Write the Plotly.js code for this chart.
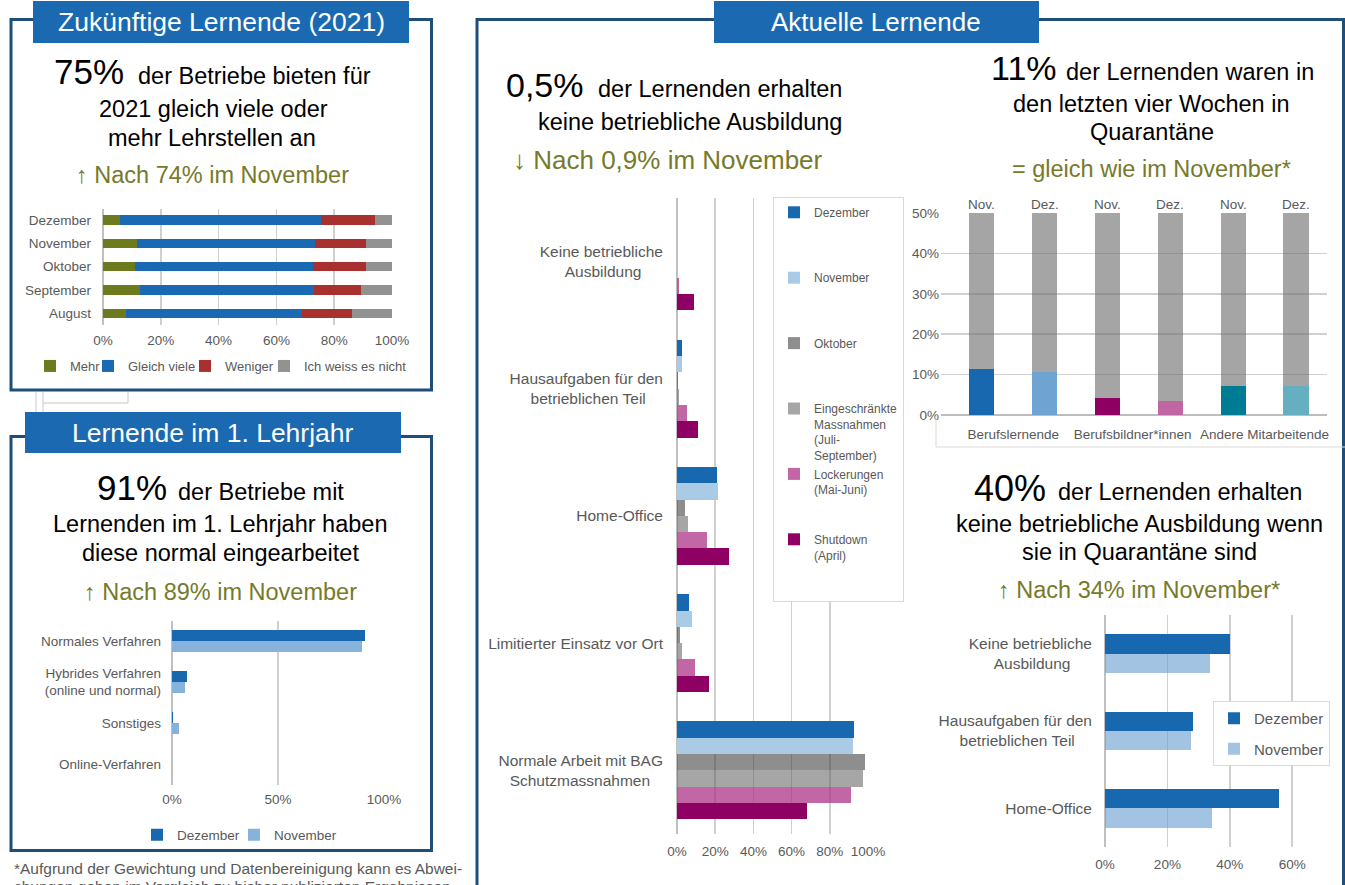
<!DOCTYPE html>
<html>
<head>
<meta charset="utf-8">
<script src="https://cdn.plot.ly/plotly-3.0.1.min.js"></script>
<style>
body { margin: 0; background: #fff; }
#chart { width: 1345px; height: 885px; }
</style>
</head>
<body>
<div id="chart"></div>
<script>
// Lehrstellen 2021
const monate = ['Dezember', 'November', 'Oktober', 'September', 'August'];
const mehr = [6, 11.9, 11, 12.9, 8.1];
const gleichViele = [69.5, 61.5, 61.7, 60, 60.9];
const weniger = [18.5, 17.7, 18.4, 16.3, 17.2];
const weissNicht = [6, 8.9, 8.9, 10.8, 13.8];

// 1. Lehrjahr
const verfahren = ['Normales Verfahren', 'Hybrides Verfahren<br>(online und normal)', 'Sonstiges', 'Online-Verfahren'];
const verfahrenDez = [90.9, 7.2, 0.5, 0];
const verfahrenNov = [89.4, 6.3, 3.5, 0];

// Aktuelle Lernende: Ausbildungssituation
const massnahmen = [
    'Keine betriebliche<br>Ausbildung&nbsp;&nbsp;&nbsp;&nbsp;&nbsp;',
    'Hausaufgaben für den<br>betrieblichen Teil&nbsp;&nbsp;&nbsp;&nbsp;',
    'Home-Office',
    'Limitierter Einsatz vor Ort',
    'Normale Arbeit mit BAG<br>Schutzmassnahmen&nbsp;&nbsp;&nbsp;'
];
const perioden = ['Dezember', 'November', 'Oktober', 'Eingeschränkte<br>Massnahmen<br>(Juli-<br>September)', 'Lockerungen<br>(Mai-Juni)', 'Shutdown<br>(April)'];
const massDez = [0, 2.6, 20.9, 6.1, 92.7];
const massNov = [0, 2.6, 21.3, 7.7, 92.2];
const massOkt = [0, 0.5, 4.0, 1.6, 98.3];
const massJuliSep = [0, 1.0, 5.6, 2.4, 97.6];
const massMaiJuni = [1.0, 5.1, 15.5, 9.4, 91.3];
const massApril = [9.1, 11.0, 27.0, 16.6, 68.3];

// Quarantäne
const gruppen = ['Berufslernende', 'Berufsbildner*innen', 'Andere Mitarbeitende'];
const quarSpalten = [0, 1, 2, 3, 4, 5];
const quarMonat = ['Nov.', 'Dez.', 'Nov.', 'Dez.', 'Nov.', 'Dez.'];
const inQuarantaene = [11.4, 10.6, 4.3, 3.5, 7.3, 7.2];
const restBis50 = [38.6, 39.4, 45.7, 46.5, 42.7, 42.8];

// Ausbildung während Quarantäne
const folgen = [
    'Keine betriebliche<br>Ausbildung&nbsp;&nbsp;&nbsp;&nbsp;&nbsp;',
    'Hausaufgaben für den<br>betrieblichen Teil&nbsp;&nbsp;&nbsp;&nbsp;',
    'Home-Office'
];
const folgenDez = [40.1, 28.2, 55.7];
const folgenNov = [33.5, 27.6, 34.3];

const W = 1345, H = 885;
const FONT = 'Liberation Sans, Arial, sans-serif';
const grau = '#595959';
const oliv = '#767A2A';
const rahmen = '#1F4E79';
const tabBlau = '#1A69B1';

function px(x) { return x / W; }
function py(y) { return 1 - y / H; }

function valueAxis(x0, x1, anchor, range, dtick, standoff) {
    return {
        domain: [px(x0), px(x1)], anchor: anchor, range: range, dtick: dtick, ticksuffix: '%',
        showgrid: true, gridcolor: '#D0D0D0', gridwidth: 1.5,
        zeroline: true, zerolinecolor: '#C0C0C0', zerolinewidth: 1.5,
        showline: false, ticks: '', ticklabelstandoff: standoff,
        tickfont: {family: FONT, size: 13.5, color: grau}
    };
}

function catAxis(y0, y1, anchor, n, size, standoff) {
    return {
        domain: [py(y1), py(y0)], anchor: anchor, type: 'category', range: [n - 0.5, -0.5],
        showgrid: false, zeroline: false, showline: false, ticks: '',
        ticklabelstandoff: standoff,
        tickfont: {family: FONT, size: size, color: grau}
    };
}

function pad4(name) {
    var s = name;
    for (var i = name.split('<br>').length; i < 4; i++) s += '<br>&nbsp;';
    return s;
}

var data = [];

// chart 1 - stacked
var serien1 = [[mehr, 'Mehr', '#6E7A1E'], [gleichViele, 'Gleich viele', '#1A6AB3'], [weniger, 'Weniger', '#A8312F'], [weissNicht, 'Ich weiss es nicht', '#929292']];
var legIds1 = ['legend', 'legend2', 'legend3', 'legend4'];
for (var i = 0; i < serien1.length; i++) {
    data.push({
        type: 'bar', orientation: 'h', y: monate, x: serien1[i][0], name: serien1[i][1],
        marker: {color: serien1[i][2]}, width: 0.4, xaxis: 'x', yaxis: 'y', legend: legIds1[i]
    });
}

// chart 2 - grouped
data.push({type: 'bar', orientation: 'h', y: verfahren, x: verfahrenDez, name: 'Dezember', base: 0, offset: -0.26, width: 0.26,
    marker: {color: '#1868B0'}, xaxis: 'x2', yaxis: 'y2', legend: 'legend5'});
data.push({type: 'bar', orientation: 'h', y: verfahren, x: verfahrenNov, name: 'November', base: 0, offset: 0, width: 0.26,
    marker: {color: '#86B2DB'}, xaxis: 'x2', yaxis: 'y2', legend: 'legend6'});

// chart 3 - six periods
var serien3 = [massDez, massNov, massOkt, massJuliSep, massMaiJuni, massApril];
var farben3 = ['#1868B0', '#A9CBE6', 'rgba(60,60,60,0.58)', 'rgba(90,90,90,0.54)', 'rgba(170,45,130,0.72)', '#8E0062'];
for (var k = 0; k < serien3.length; k++) {
    data.push({
        type: 'bar', orientation: 'h', y: massnahmen, x: serien3[k], name: pad4(perioden[k]),
        base: 0, offset: -0.385 + k * 0.128, width: 0.128,
        marker: {color: farben3[k]}, xaxis: 'x3', yaxis: 'y3', legend: 'legend7'
    });
}

// chart 4 - quarantine, stacked to 50%
data.push({type: 'bar', x: quarSpalten, y: inQuarantaene, width: 0.4, showlegend: false,
    marker: {color: ['#1868B0', '#6EA3D2', '#8E0062', '#C066A3', '#007B94', '#66AFC0']}, xaxis: 'x4', yaxis: 'y4'});
data.push({type: 'bar', x: quarSpalten, y: restBis50, width: 0.4, showlegend: false,
    marker: {color: 'rgba(110,110,110,0.62)'}, xaxis: 'x4', yaxis: 'y4'});

// chart 5 - grouped
data.push({type: 'bar', orientation: 'h', y: folgen, x: folgenDez, name: 'Dezember', base: 0, offset: -0.25, width: 0.25,
    marker: {color: '#1868B0'}, xaxis: 'x5', yaxis: 'y5', legend: 'legend8', legendgroup: 'd'});
data.push({type: 'bar', orientation: 'h', y: folgen, x: folgenNov, name: 'November', base: 0, offset: 0, width: 0.25,
    marker: {color: 'rgba(100,155,205,0.6)'}, xaxis: 'x5', yaxis: 'y5', legend: 'legend8', legendgroup: 'n'});

function smallLegend(x, y, size) {
    return {x: px(x), y: py(y), xanchor: 'left', yanchor: 'middle', bgcolor: 'rgba(0,0,0,0)',
        font: {family: FONT, size: size, color: grau}, itemwidth: 30, traceorder: 'normal'};
}

function txt(t, x, base, size, color, anchor) {
    return {text: t, xref: 'paper', yref: 'paper', x: px(x), y: py(base - 0.35 * size),
        xanchor: anchor || 'left', yanchor: 'middle', showarrow: false,
        font: {family: FONT, size: size, color: color || '#000'}};
}

function box(x0, y0, x1, y1) {
    return {type: 'rect', xref: 'paper', yref: 'paper', x0: px(x0), x1: px(x1), y0: py(y0), y1: py(y1),
        line: {color: rahmen, width: 3}};
}
function tab(x0, y0, x1, y1) {
    return {type: 'rect', xref: 'paper', yref: 'paper', x0: px(x0), x1: px(x1), y0: py(y0), y1: py(y1),
        fillcolor: tabBlau, line: {width: 0}};
}
function strich(x0, y0, x1, y1, c) {
    return {type: 'line', xref: 'paper', yref: 'paper', x0: px(x0), x1: px(x1), y0: py(y0), y1: py(y1),
        line: {color: c || '#D9D9D9', width: 1}};
}

var shapes = [
    box(11, 19.5, 431.5, 390), box(11, 436.5, 431.5, 850.5), box(477, 19.5, 1343.5, 900),
    tab(33, 1, 409, 43), tab(25, 412, 401, 453), tab(714, 1, 1039, 43),
    strich(936, 416, 936, 447), strich(936, 447, 1345, 447),
    strich(36, 392, 36, 412, '#C8C8C8'), strich(43, 392, 43, 412, '#C8C8C8'),
    strich(43, 403, 128, 403, '#C8C8C8'), strich(128, 392, 128, 403, '#C8C8C8')
];

var annotations = [
    txt('Zukünftige Lernende (2021)', 221, 31, 26.5, '#fff', 'center'),
    txt('Lernende im 1. Lehrjahr', 213, 442, 26.5, '#fff', 'center'),
    txt('Aktuelle Lernende', 876, 31, 26, '#fff', 'center'),

    txt('75%', 52, 84, 35),
    txt('der Betriebe bieten für', 136, 84, 23.5),
    txt('2021 gleich viele oder', 213, 117, 23.5, null, 'center'),
    txt('mehr Lehrstellen an', 212, 146, 23.5, null, 'center'),
    txt('↑ Nach 74% im November', 212, 183, 23.5, oliv, 'center'),

    txt('91%', 95, 500, 35),
    txt('der Betriebe mit', 176, 500, 23.5),
    txt('Lernenden im 1. Lehrjahr haben', 220, 532, 23.5, null, 'center'),
    txt('diese normal eingearbeitet', 220, 561, 23.5, null, 'center'),
    txt('↑ Nach 89% im November', 220, 600, 23.5, oliv, 'center'),

    txt('0,5%', 504, 97, 34),
    txt('der Lernenden erhalten', 596, 97, 23.5),
    txt('keine betriebliche Ausbildung', 844, 130, 23.5, null, 'right'),
    txt('↓ Nach 0,9% im November', 511, 169, 26, oliv),

    txt('11%', 989, 80, 34),
    txt('der Lernenden waren in', 1064, 80, 23.5),
    txt('den letzten vier Wochen in', 1151, 112, 23.5, null, 'center'),
    txt('Quarantäne', 1152, 140, 23.5, null, 'center'),
    txt('= gleich wie im November*', 1151, 177, 23.5, oliv, 'center'),

    txt('40%', 972, 501, 36),
    txt('der Lernenden erhalten', 1056, 500, 23.5),
    txt('keine betriebliche Ausbildung wenn', 1139, 532, 23.5, null, 'center'),
    txt('sie in Quarantäne sind', 1139, 560, 23.5, null, 'center'),
    txt('↑ Nach 34% im November*', 1139, 598, 23.5, oliv, 'center'),

    txt('*Aufgrund der Gewichtung und Datenbereinigung kann es Abwei-', 12, 874, 15.5, grau),
    txt('chungen geben im Vergleich zu bisher publizierten Ergebnissen.', 12, 892, 15.5, grau)
];

// Nov./Dez. labels above the quarantine bars
for (var q = 0; q < quarSpalten.length; q++) {
    annotations.push({text: quarMonat[q], xref: 'x4', yref: 'paper', x: quarSpalten[q], y: py(205),
        xanchor: 'center', yanchor: 'middle', showarrow: false,
        font: {family: FONT, size: 13.5, color: grau}});
}

var layout = {
    width: W, height: H,
    margin: {l: 0, r: 0, t: 0, b: 0},
    paper_bgcolor: '#fff', plot_bgcolor: 'rgba(0,0,0,0)',
    barmode: 'stack',
    font: {family: FONT, color: grau},
    showlegend: true,

    xaxis: valueAxis(103, 392, 'y', [0, 100], 20, 5),
    yaxis: catAxis(208.5, 325, 'x', monate.length, 13.5, 11),

    xaxis2: valueAxis(172, 384, 'y2', [0, 100], 50, 5),
    yaxis2: catAxis(620.5, 784.5, 'x2', verfahren.length, 13.5, 10),

    xaxis3: valueAxis(677, 868, 'y3', [0, 100], 20, 7),
    yaxis3: catAxis(198, 834, 'x3', massnahmen.length, 15.5, 13),

    xaxis4: {domain: [px(941), px(1327.4)], anchor: 'y4', range: [-0.65, 5.5],
        tickvals: [0.5, 2.4, 4.5], ticktext: gruppen, showgrid: false, zeroline: false, showline: false,
        ticks: '', ticklabelstandoff: 9, tickfont: {family: FONT, size: 13.5, color: grau}},
    yaxis4: {domain: [py(415), py(213)], anchor: 'x4', range: [0, 50], dtick: 10, ticksuffix: '%',
        showgrid: true, gridcolor: '#D0D0D0', gridwidth: 1.5, zeroline: true, zerolinecolor: '#BDBDBD', zerolinewidth: 2,
        showline: false, ticks: '', ticklabelstandoff: 1, tickfont: {family: FONT, size: 13.5, color: grau}},

    xaxis5: valueAxis(1105, 1326.5, 'y5', [0, 71], 20, 7),
    yaxis5: catAxis(615, 847, 'x5', folgen.length, 15.5, 12),

    legend: smallLegend(30, 366, 13),
    legend2: smallLegend(88, 366, 13),
    legend3: smallLegend(185, 366, 13),
    legend4: smallLegend(264, 366, 13),
    legend5: smallLegend(137, 835, 13.5),
    legend6: smallLegend(234, 835, 13.5),
    legend7: {x: px(773), y: py(197), xanchor: 'left', yanchor: 'top', valign: 'top', traceorder: 'normal',
        bgcolor: '#fff', bordercolor: '#D9D9D9', borderwidth: 1, itemwidth: 30,
        font: {family: FONT, size: 12, color: grau}},
    legend8: {x: px(1330), y: py(701), xanchor: 'right', yanchor: 'top', traceorder: 'grouped', tracegroupgap: 8,
        bgcolor: '#fff', bordercolor: '#D9D9D9', borderwidth: 1, itemwidth: 30,
        font: {family: FONT, size: 15, color: grau}},

    shapes: shapes,
    annotations: annotations
};

Plotly.newPlot('chart', data, layout, {displayModeBar: false, staticPlot: true});
</script>
</body>
</html>
